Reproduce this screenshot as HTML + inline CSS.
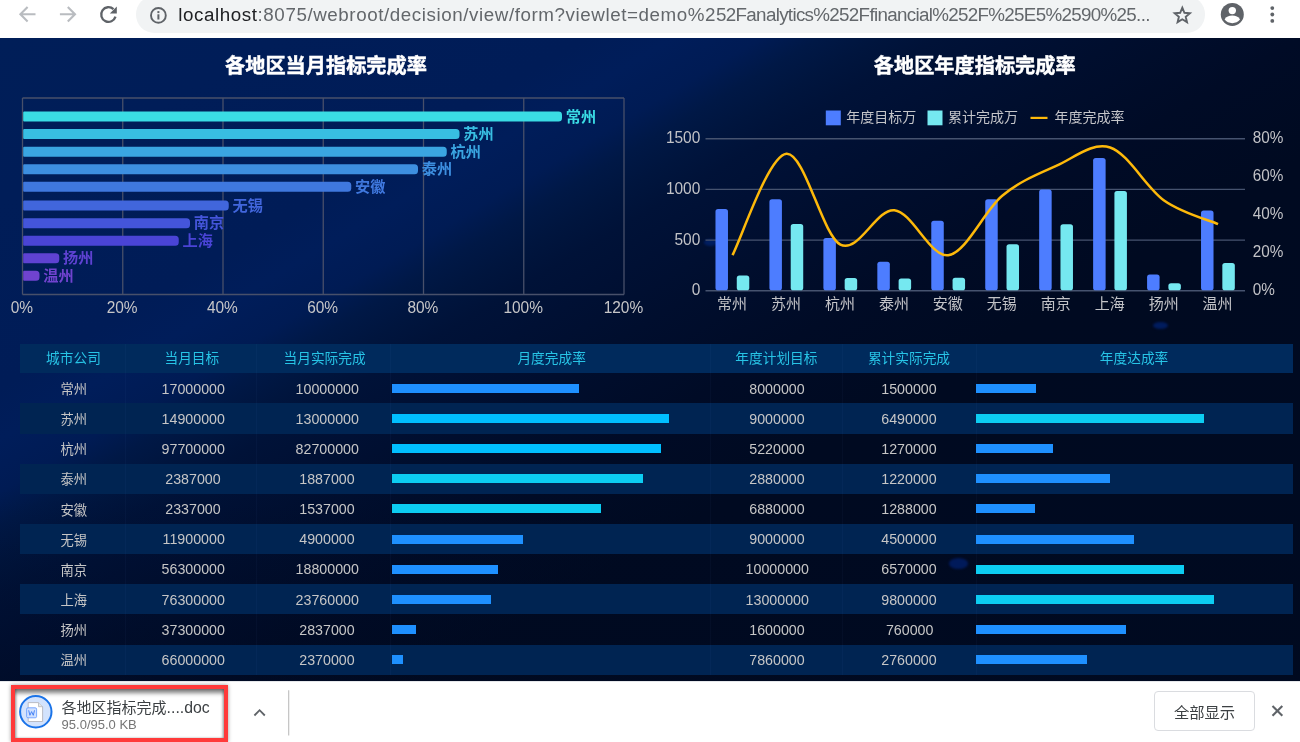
<!DOCTYPE html>
<html lang="zh-CN"><head><meta charset="utf-8"><title>各地区指标完成率</title>
<style>
*{box-sizing:border-box;margin:0;padding:0}
html,body{width:1300px;height:742px;overflow:hidden;background:#fff}
body{position:relative;font-family:"Liberation Sans","Noto Sans CJK SC",sans-serif}
#tb{position:absolute;left:0;top:0;width:1300px;height:38px;background:#fff}
#pill{position:absolute;left:135.5px;top:-4px;width:1069.5px;height:36.6px;border-radius:18.3px;background:#f1f3f4}
#url{position:absolute;left:178.3px;top:4.3px;height:22px;line-height:22px;font-size:18.8px;color:#63676b;white-space:nowrap;letter-spacing:0}
#url b{font-weight:400;color:#202124}
#dash{position:absolute;left:0;top:37.7px;width:1300px;height:643.3px;overflow:hidden;background:#000a20}
#bg{position:absolute;left:0;top:0;width:1300px;height:644px;
 background:linear-gradient(to bottom, rgba(0,9,32,0) 0%, rgba(0,9,32,0) 70%, rgba(0,9,32,0.35) 100%),
 linear-gradient(149.2deg, #001e58 0px, #001d58 140px, #001c57 300px, #001d5a 345px, #001b54 390px, #001846 420px, #00153e 450px, #001238 480px, #001034 520px, #000e2e 575px, #000b26 665px, #000a21 770px, #000a20 1218px),
 #000a20}
.bl{position:absolute;border-radius:50%;filter:blur(1.2px)}
#charts{position:absolute;left:0;top:-37.7px}
#charts text{font-family:"Liberation Sans","Noto Sans CJK SC",sans-serif}
.t{position:absolute;left:20px;top:306px;width:1272.6px}
.r{position:absolute;left:0;width:1272.6px;height:30.15px}
.r.h{height:29.6px}
.c{position:absolute;top:0;height:30.15px;line-height:30.15px;text-align:center;font-size:14.3px;color:#c6c6c6;white-space:nowrap;padding-left:4.6px;padding-top:0.3px}
.n{display:inline-block;transform:scaleX(.925);font-size:15.4px}
.z{font-size:13.3px;padding-left:2.4px;padding-top:1.7px}
.h .c{color:#27c4e6;font-size:13.7px;padding-left:2px;padding-top:0;top:0.7px;height:29.6px;line-height:29.6px}
.pb{position:absolute;height:9px}
#dl{position:absolute;left:0;top:680.75px;width:1300px;height:62px;background:#fff;box-shadow:inset 0 1px 0 #e6e8eb}
</style></head><body>
<div id="tb">
<div id="pill"></div>
<svg width="1300" height="38" viewBox="0 0 1300 38" style="position:absolute;left:0;top:0">
<g fill="none" stroke="#b9bcc0" stroke-width="2.1" stroke-linecap="butt" stroke-linejoin="miter">
<path d="M35.5 14.2H20.6M27.6 7.0L20.4 14.2L27.6 21.4"/>
<path d="M59.9 14.2H74.8M67.8 7.0L75 14.2L67.8 21.4"/>
</g>
<g fill="none" stroke="#5f6368" stroke-width="2.3">
<path d="M113.5 9.2A7.3 7.3 0 1 0 115.5 16.6"/>
</g>
<path d="M116.8 6.4V13.4H109.8Z" fill="#5f6368"/>
<circle cx="158.4" cy="15.4" r="7.4" fill="none" stroke="#5f6368" stroke-width="1.9"/>
<rect x="157.4" y="14.3" width="2" height="5.2" fill="#5f6368"/><rect x="157.4" y="11.1" width="2" height="2" fill="#5f6368"/>
<polygon points="1182.3,7.7 1184.42,12.79 1189.91,13.23 1185.72,16.81 1187,22.17 1182.3,19.3 1177.6,22.17 1178.88,16.81 1174.69,13.23 1180.18,12.79" fill="none" stroke="#5f6368" stroke-width="1.9" stroke-linejoin="miter"/>
<circle cx="1232.3" cy="14.4" r="11.5" fill="#5f6368"/>
<circle cx="1232.3" cy="10.6" r="3.7" fill="#fff"/>
<path d="M1224.6 19.6C1226 16.6 1229 15.6 1232.3 15.6C1235.6 15.6 1238.6 16.6 1240 19.6C1238.2 21.9 1235.4 23.2 1232.3 23.2C1229.2 23.2 1226.4 21.9 1224.6 19.6Z" fill="#fff"/>
<circle cx="1272.3" cy="8.1" r="1.9" fill="#5f6368"/>
<circle cx="1272.3" cy="14.5" r="1.9" fill="#5f6368"/>
<circle cx="1272.3" cy="20.9" r="1.9" fill="#5f6368"/>
</svg>
<div id="url"><span style="letter-spacing:.57px"><b>localhost</b>:8075/webroot/decision/view/form?viewlet=demo%2</span><span style="letter-spacing:-.68px">52Fanalytics%252Ffinancial%252F%25E5%2590%25...</span></div>
</div>
<div id="dash"><div id="bg"></div>
<div class="bl" style="left:703.5px;top:201.3px;width:13px;height:6.6px;background:#001e60"></div>
<div class="bl" style="left:1152.5px;top:284.6px;width:15px;height:7px;background:#001c5e"></div>
<svg id="charts" width="1300" height="340" viewBox="0 0 1300 340">
<g fill="none" stroke="#48506a" stroke-width="1.3">
<path d="M22.5 98V294.5"/>
<path d="M122.75 98V294.5"/>
<path d="M223 98V294.5"/>
<path d="M323.25 98V294.5"/>
<path d="M423.5 98V294.5"/>
<path d="M523.75 98V294.5"/>
<path d="M624 98V294.5"/>
<path d="M22.5 98H624"/>
<path d="M22.5 294.5H624"/>
</g>
<path d="M24.2 111.5H558.5a3.5 3.5 0 0 1 3.5 3.5v3a3.5 3.5 0 0 1 -3.5 3.5H24.2a1 1 0 0 1 -1 -1v-8a1 1 0 0 1 1 -1Z" fill="#3adce4"/>
<text x="565.7" y="121.5" font-size="15.2" font-weight="700" fill="#3adce4">常州</text>
<path d="M24.2 129.1H456a3.5 3.5 0 0 1 3.5 3.5v3a3.5 3.5 0 0 1 -3.5 3.5H24.2a1 1 0 0 1 -1 -1v-8a1 1 0 0 1 1 -1Z" fill="#38bee2"/>
<text x="463.2" y="139.1" font-size="15.2" font-weight="700" fill="#38bee2">苏州</text>
<path d="M24.2 146.75H443.25a3.5 3.5 0 0 1 3.5 3.5v3a3.5 3.5 0 0 1 -3.5 3.5H24.2a1 1 0 0 1 -1 -1v-8a1 1 0 0 1 1 -1Z" fill="#3aa5e1"/>
<text x="450.45" y="156.75" font-size="15.2" font-weight="700" fill="#3aa5e1">杭州</text>
<path d="M24.2 164.3H414.5a3.5 3.5 0 0 1 3.5 3.5v3a3.5 3.5 0 0 1 -3.5 3.5H24.2a1 1 0 0 1 -1 -1v-8a1 1 0 0 1 1 -1Z" fill="#3d8fe0"/>
<text x="421.7" y="174.3" font-size="15.2" font-weight="700" fill="#3d8fe0">泰州</text>
<path d="M24.2 181.85H347.75a3.5 3.5 0 0 1 3.5 3.5v3a3.5 3.5 0 0 1 -3.5 3.5H24.2a1 1 0 0 1 -1 -1v-8a1 1 0 0 1 1 -1Z" fill="#3f78de"/>
<text x="354.95" y="191.85" font-size="15.2" font-weight="700" fill="#3f78de">安徽</text>
<path d="M24.2 200.55H225.25a3.5 3.5 0 0 1 3.5 3.5v3a3.5 3.5 0 0 1 -3.5 3.5H24.2a1 1 0 0 1 -1 -1v-8a1 1 0 0 1 1 -1Z" fill="#4166dc"/>
<text x="232.45" y="210.55" font-size="15.2" font-weight="700" fill="#4166dc">无锡</text>
<path d="M24.2 218.15H186.5a3.5 3.5 0 0 1 3.5 3.5v3a3.5 3.5 0 0 1 -3.5 3.5H24.2a1 1 0 0 1 -1 -1v-8a1 1 0 0 1 1 -1Z" fill="#4455da"/>
<text x="193.7" y="228.15" font-size="15.2" font-weight="700" fill="#4455da">南京</text>
<path d="M24.2 235.7H175.25a3.5 3.5 0 0 1 3.5 3.5v3a3.5 3.5 0 0 1 -3.5 3.5H24.2a1 1 0 0 1 -1 -1v-8a1 1 0 0 1 1 -1Z" fill="#4a44d6"/>
<text x="182.45" y="245.7" font-size="15.2" font-weight="700" fill="#4a44d6">上海</text>
<path d="M24.2 253.25H55.75a3.5 3.5 0 0 1 3.5 3.5v3a3.5 3.5 0 0 1 -3.5 3.5H24.2a1 1 0 0 1 -1 -1v-8a1 1 0 0 1 1 -1Z" fill="#5e42d2"/>
<text x="62.95" y="263.25" font-size="15.2" font-weight="700" fill="#5e42d2">扬州</text>
<path d="M24.2 270.8H36a3.5 3.5 0 0 1 3.5 3.5v3a3.5 3.5 0 0 1 -3.5 3.5H24.2a1 1 0 0 1 -1 -1v-8a1 1 0 0 1 1 -1Z" fill="#7043cf"/>
<text x="43.2" y="280.8" font-size="15.2" font-weight="700" fill="#7043cf">温州</text>
<text transform="translate(21.9 312.5) scale(.95 1)" font-size="16.3" fill="#c6c6c8" text-anchor="middle">0%</text>
<text transform="translate(122.15 312.5) scale(.95 1)" font-size="16.3" fill="#c6c6c8" text-anchor="middle">20%</text>
<text transform="translate(222.4 312.5) scale(.95 1)" font-size="16.3" fill="#c6c6c8" text-anchor="middle">40%</text>
<text transform="translate(322.65 312.5) scale(.95 1)" font-size="16.3" fill="#c6c6c8" text-anchor="middle">60%</text>
<text transform="translate(422.9 312.5) scale(.95 1)" font-size="16.3" fill="#c6c6c8" text-anchor="middle">80%</text>
<text transform="translate(523.15 312.5) scale(.95 1)" font-size="16.3" fill="#c6c6c8" text-anchor="middle">100%</text>
<text transform="translate(623.4 312.5) scale(.95 1)" font-size="16.3" fill="#c6c6c8" text-anchor="middle">120%</text>
<text x="326" y="73" font-size="20.2" font-weight="700" fill="#fff" stroke="#fff" stroke-width="0.45" text-anchor="middle">各地区当月指标完成率</text>
<text x="974.7" y="73" font-size="20.2" font-weight="700" fill="#fff" stroke="#fff" stroke-width="0.45" text-anchor="middle">各地区年度指标完成率</text>
<g fill="none" stroke="#46536f" stroke-width="1.3">
<path d="M705.5 290.75H1245"/>
<path d="M705.5 240.08H1245"/>
<path d="M705.5 189.42H1245"/>
<path d="M705.5 138.75H1245"/>
</g>
<text transform="translate(700.3 295.45) scale(.95 1)" font-size="16.3" fill="#c2c3c7" text-anchor="end">0</text>
<text transform="translate(700.3 244.78) scale(.95 1)" font-size="16.3" fill="#c2c3c7" text-anchor="end">500</text>
<text transform="translate(700.3 194.12) scale(.95 1)" font-size="16.3" fill="#c2c3c7" text-anchor="end">1000</text>
<text transform="translate(700.3 143.45) scale(.95 1)" font-size="16.3" fill="#c2c3c7" text-anchor="end">1500</text>
<text transform="translate(1252.8 295.45) scale(.94 1)" font-size="16.3" fill="#c2c3c7">0%</text>
<text transform="translate(1252.8 257.45) scale(.94 1)" font-size="16.3" fill="#c2c3c7">20%</text>
<text transform="translate(1252.8 219.45) scale(.94 1)" font-size="16.3" fill="#c2c3c7">40%</text>
<text transform="translate(1252.8 181.45) scale(.94 1)" font-size="16.3" fill="#c2c3c7">60%</text>
<text transform="translate(1252.8 143.45) scale(.94 1)" font-size="16.3" fill="#c2c3c7">80%</text>
<rect x="715.48" y="209.08" width="12.5" height="81.17" rx="2.6" fill="#4d7dff"/>
<rect x="736.77" y="275.55" width="12.5" height="14.7" rx="2.6" fill="#75e8f0"/>
<text x="732.08" y="308.9" font-size="15" fill="#c2c3c7" text-anchor="middle">常州</text>
<rect x="769.42" y="199.25" width="12.5" height="91" rx="2.6" fill="#4d7dff"/>
<rect x="790.72" y="224.07" width="12.5" height="66.18" rx="2.6" fill="#75e8f0"/>
<text x="786.02" y="308.9" font-size="15" fill="#c2c3c7" text-anchor="middle">苏州</text>
<rect x="823.38" y="238.06" width="12.5" height="52.19" rx="2.6" fill="#4d7dff"/>
<rect x="844.67" y="277.88" width="12.5" height="12.37" rx="2.6" fill="#75e8f0"/>
<text x="839.98" y="308.9" font-size="15" fill="#c2c3c7" text-anchor="middle">杭州</text>
<rect x="877.33" y="261.77" width="12.5" height="28.48" rx="2.6" fill="#4d7dff"/>
<rect x="898.62" y="278.39" width="12.5" height="11.86" rx="2.6" fill="#75e8f0"/>
<text x="893.93" y="308.9" font-size="15" fill="#c2c3c7" text-anchor="middle">泰州</text>
<rect x="931.27" y="220.63" width="12.5" height="69.62" rx="2.6" fill="#4d7dff"/>
<rect x="952.57" y="277.7" width="12.5" height="12.55" rx="2.6" fill="#75e8f0"/>
<text x="947.88" y="308.9" font-size="15" fill="#c2c3c7" text-anchor="middle">安徽</text>
<rect x="985.23" y="199.25" width="12.5" height="91" rx="2.6" fill="#4d7dff"/>
<rect x="1006.52" y="244.24" width="12.5" height="46.01" rx="2.6" fill="#75e8f0"/>
<text x="1001.83" y="308.9" font-size="15" fill="#c2c3c7" text-anchor="middle">无锡</text>
<rect x="1039.17" y="189.42" width="12.5" height="100.83" rx="2.6" fill="#4d7dff"/>
<rect x="1060.47" y="224.17" width="12.5" height="66.08" rx="2.6" fill="#75e8f0"/>
<text x="1055.77" y="308.9" font-size="15" fill="#c2c3c7" text-anchor="middle">南京</text>
<rect x="1093.12" y="157.9" width="12.5" height="132.35" rx="2.6" fill="#4d7dff"/>
<rect x="1114.42" y="190.94" width="12.5" height="99.31" rx="2.6" fill="#75e8f0"/>
<text x="1109.72" y="308.9" font-size="15" fill="#c2c3c7" text-anchor="middle">上海</text>
<rect x="1147.08" y="274.54" width="12.5" height="15.71" rx="2.6" fill="#4d7dff"/>
<rect x="1168.38" y="283.25" width="12.5" height="7" rx="2.6" fill="#75e8f0"/>
<text x="1163.67" y="308.9" font-size="15" fill="#c2c3c7" text-anchor="middle">扬州</text>
<rect x="1201.03" y="210.39" width="12.5" height="79.86" rx="2.6" fill="#4d7dff"/>
<rect x="1222.33" y="262.98" width="12.5" height="27.27" rx="2.6" fill="#75e8f0"/>
<text x="1217.62" y="308.9" font-size="15" fill="#c2c3c7" text-anchor="middle">温州</text>
<path d="M732.48 255.12C741.47 238.23 768.44 155.52 786.42 153.76C804.41 152 822.39 235.17 840.38 244.58C858.36 253.98 876.34 208.42 894.33 210.19C912.31 211.96 930.29 257.63 948.27 255.22C966.26 252.81 984.24 210.63 1002.23 195.75C1020.21 180.87 1038.19 173.96 1056.17 165.92C1074.16 157.88 1092.14 141.73 1110.12 147.49C1128.11 153.25 1146.09 187.74 1164.08 200.5C1182.06 213.26 1209.03 220.13 1218.03 224.06" fill="none" stroke="#fdb90a" stroke-width="2.5" stroke-linejoin="round"/>
<rect x="825.8" y="110.5" width="15" height="14.8" fill="#4d7dff"/>
<text x="846.2" y="122.4" font-size="14" fill="#c4c5c9">年度目标万</text>
<rect x="927.5" y="110.5" width="15" height="14.8" fill="#75e8f0"/>
<text x="948" y="122.4" font-size="14" fill="#c4c5c9">累计完成万</text>
<path d="M1030.5 117.9H1047.5" stroke="#fdb90a" stroke-width="2.2" fill="none"/>
<text x="1054.5" y="122.4" font-size="14" fill="#c4c5c9">年度完成率</text>
</svg>
<div class="t">
<div class="r h" style="top:0;background:#002a5c">
<div class="c" style="left:0px;width:105px">城市公司</div>
<div class="c" style="left:105px;width:131.75px">当月目标</div>
<div class="c" style="left:236.75px;width:133.75px">当月实际完成</div>
<div class="c" style="left:370.5px;width:320.3px">月度完成率</div>
<div class="c" style="left:689.8px;width:131.2px">年度计划目标</div>
<div class="c" style="left:821px;width:134px">累计实际完成</div>
<div class="c" style="left:954.8px;width:316.6px">年度达成率</div>
</div>
<div class="r" style="top:29.6px;background:transparent">
<div class="c z" style="left:0px;width:105px">常州</div>
<div class="c" style="left:105px;width:131.75px"><span class="n">17000000</span></div>
<div class="c" style="left:237.95px;width:133.75px"><span class="n">10000000</span></div>
<div class="pb" style="left:372px;top:10.6px;width:186.75px;background:#1e90ff"></div>
<div class="c" style="left:689.1px;width:131.2px"><span class="n">8000000</span></div>
<div class="c" style="left:820.1px;width:134px"><span class="n">1500000</span></div>
<div class="pb" style="left:956.25px;top:10.6px;width:59.25px;background:#1e90ff"></div>
</div>
<div class="r" style="top:59.75px;background:#002452">
<div class="c z" style="left:0px;width:105px">苏州</div>
<div class="c" style="left:105px;width:131.75px"><span class="n">14900000</span></div>
<div class="c" style="left:237.95px;width:133.75px"><span class="n">13000000</span></div>
<div class="pb" style="left:372px;top:10.6px;width:277px;background:#00bfff"></div>
<div class="c" style="left:689.1px;width:131.2px"><span class="n">9000000</span></div>
<div class="c" style="left:820.1px;width:134px"><span class="n">6490000</span></div>
<div class="pb" style="left:956.25px;top:10.6px;width:227.9px;background:#0ccdf2"></div>
</div>
<div class="r" style="top:89.9px;background:transparent">
<div class="c z" style="left:0px;width:105px">杭州</div>
<div class="c" style="left:105px;width:131.75px"><span class="n">97700000</span></div>
<div class="c" style="left:237.95px;width:133.75px"><span class="n">82700000</span></div>
<div class="pb" style="left:372px;top:10.6px;width:268.7px;background:#00bfff"></div>
<div class="c" style="left:689.1px;width:131.2px"><span class="n">5220000</span></div>
<div class="c" style="left:820.1px;width:134px"><span class="n">1270000</span></div>
<div class="pb" style="left:956.25px;top:10.6px;width:76.9px;background:#1e90ff"></div>
</div>
<div class="r" style="top:120.05px;background:#002452">
<div class="c z" style="left:0px;width:105px">泰州</div>
<div class="c" style="left:105px;width:131.75px"><span class="n">2387000</span></div>
<div class="c" style="left:237.95px;width:133.75px"><span class="n">1887000</span></div>
<div class="pb" style="left:372px;top:10.6px;width:251px;background:#0ccdf2"></div>
<div class="c" style="left:689.1px;width:131.2px"><span class="n">2880000</span></div>
<div class="c" style="left:820.1px;width:134px"><span class="n">1220000</span></div>
<div class="pb" style="left:956.25px;top:10.6px;width:133.9px;background:#1e90ff"></div>
</div>
<div class="r" style="top:150.2px;background:transparent">
<div class="c z" style="left:0px;width:105px">安徽</div>
<div class="c" style="left:105px;width:131.75px"><span class="n">2337000</span></div>
<div class="c" style="left:237.95px;width:133.75px"><span class="n">1537000</span></div>
<div class="pb" style="left:372px;top:10.6px;width:208.8px;background:#0ccdf2"></div>
<div class="c" style="left:689.1px;width:131.2px"><span class="n">6880000</span></div>
<div class="c" style="left:820.1px;width:134px"><span class="n">1288000</span></div>
<div class="pb" style="left:956.25px;top:10.6px;width:59.2px;background:#1e90ff"></div>
</div>
<div class="r" style="top:180.35px;background:#002452">
<div class="c z" style="left:0px;width:105px">无锡</div>
<div class="c" style="left:105px;width:131.75px"><span class="n">11900000</span></div>
<div class="c" style="left:237.95px;width:133.75px"><span class="n">4900000</span></div>
<div class="pb" style="left:372px;top:10.6px;width:130.7px;background:#1e90ff"></div>
<div class="c" style="left:689.1px;width:131.2px"><span class="n">9000000</span></div>
<div class="c" style="left:820.1px;width:134px"><span class="n">4500000</span></div>
<div class="pb" style="left:956.25px;top:10.6px;width:158px;background:#1e90ff"></div>
</div>
<div class="r" style="top:210.5px;background:transparent">
<div class="c z" style="left:0px;width:105px">南京</div>
<div class="c" style="left:105px;width:131.75px"><span class="n">56300000</span></div>
<div class="c" style="left:237.95px;width:133.75px"><span class="n">18800000</span></div>
<div class="pb" style="left:372px;top:10.6px;width:106px;background:#1e90ff"></div>
<div class="c" style="left:689.1px;width:131.2px"><span class="n">10000000</span></div>
<div class="c" style="left:820.1px;width:134px"><span class="n">6570000</span></div>
<div class="pb" style="left:956.25px;top:10.6px;width:207.6px;background:#0ccdf2"></div>
</div>
<div class="r" style="top:240.65px;background:#002452">
<div class="c z" style="left:0px;width:105px">上海</div>
<div class="c" style="left:105px;width:131.75px"><span class="n">76300000</span></div>
<div class="c" style="left:237.95px;width:133.75px"><span class="n">23760000</span></div>
<div class="pb" style="left:372px;top:10.6px;width:98.9px;background:#1e90ff"></div>
<div class="c" style="left:689.1px;width:131.2px"><span class="n">13000000</span></div>
<div class="c" style="left:820.1px;width:134px"><span class="n">9800000</span></div>
<div class="pb" style="left:956.25px;top:10.6px;width:238.2px;background:#0ccdf2"></div>
</div>
<div class="r" style="top:270.8px;background:transparent">
<div class="c z" style="left:0px;width:105px">扬州</div>
<div class="c" style="left:105px;width:131.75px"><span class="n">37300000</span></div>
<div class="c" style="left:237.95px;width:133.75px"><span class="n">2837000</span></div>
<div class="pb" style="left:372px;top:10.6px;width:24.1px;background:#1e90ff"></div>
<div class="c" style="left:689.1px;width:131.2px"><span class="n">1600000</span></div>
<div class="c" style="left:820.1px;width:134px"><span class="n">760000</span></div>
<div class="pb" style="left:956.25px;top:10.6px;width:150.1px;background:#1e90ff"></div>
</div>
<div class="r" style="top:300.95px;background:#002452">
<div class="c z" style="left:0px;width:105px">温州</div>
<div class="c" style="left:105px;width:131.75px"><span class="n">66000000</span></div>
<div class="c" style="left:237.95px;width:133.75px"><span class="n">2370000</span></div>
<div class="pb" style="left:372px;top:10.6px;width:11.4px;background:#1e90ff"></div>
<div class="c" style="left:689.1px;width:131.2px"><span class="n">7860000</span></div>
<div class="c" style="left:820.1px;width:134px"><span class="n">2760000</span></div>
<div class="pb" style="left:956.25px;top:10.6px;width:111px;background:#1e90ff"></div>
</div>
</div>
<div style="position:absolute;left:124.5px;top:306px;width:1px;height:331.1px;background:rgba(120,170,255,0.035)"></div>
<div style="position:absolute;left:256.25px;top:306px;width:1px;height:331.1px;background:rgba(120,170,255,0.035)"></div>
<div style="position:absolute;left:390px;top:306px;width:1px;height:331.1px;background:rgba(120,170,255,0.035)"></div>
<div style="position:absolute;left:710.3px;top:306px;width:1px;height:331.1px;background:rgba(120,170,255,0.035)"></div>
<div style="position:absolute;left:841.5px;top:306px;width:1px;height:331.1px;background:rgba(120,170,255,0.035)"></div>
<div style="position:absolute;left:975.5px;top:306px;width:1px;height:331.1px;background:rgba(120,170,255,0.035)"></div>
<div class="bl" style="left:949px;top:520.5px;width:19px;height:10.5px;background:#001a5a"></div>
</div>
<div id="dl">
<div style="position:absolute;left:11px;top:4.25px;width:217px;height:57px;border:4px solid #ff3a3a;box-shadow:0 0 4px rgba(0,0,0,0.4), inset 0 5px 4px -1px rgba(0,0,0,0.5), inset 1.5px 0 2px rgba(0,0,0,0.22), inset -1.5px 0 2px rgba(0,0,0,0.22)"></div>
<svg width="1300" height="62" viewBox="0 0 1300 62" style="position:absolute;left:0;top:0">
<circle cx="35.8" cy="30.75" r="15.7" fill="#d3e3fd" stroke="#1a73e8" stroke-width="2"/>
<path d="M28.2 21.6h10.3l4.1 4.1v14.8h-14.4z" fill="#fff" stroke="#b4b6bd" stroke-width="0.9" stroke-linejoin="round"/>
<path d="M38.5 21.6v4.1h4.1" fill="#e4e6ea" stroke="#b4b6bd" stroke-width="0.8" stroke-linejoin="round"/>
<rect x="26.6" y="26.8" width="10" height="10" rx="1.4" fill="#cfe0ff" stroke="#6ea1ff" stroke-width="0.9"/>
<path d="M28.7 29.3l1.2 5l1.7-3.7l1.7 3.7l1.2-5" fill="none" stroke="#3b7cf5" stroke-width="0.9" stroke-linejoin="miter"/>
<path d="M254.4 34.5L259.6 29.2L264.8 34.5" fill="none" stroke="#5f6368" stroke-width="1.8"/>
<path d="M288.7 9.3V54.4" stroke="#bdbdbd" stroke-width="1.1"/>
<path d="M1272.5 24.9L1282.3 34.7M1282.3 24.9L1272.5 34.7" stroke="#5f6368" stroke-width="2.1" fill="none"/>
</svg>
<div style="position:absolute;left:61.6px;top:17.3px;font-size:15px;line-height:20px;color:#3c4043;white-space:nowrap">各地区指标完成<span style="font-size:15.8px">....doc</span></div>
<div style="position:absolute;left:61.6px;top:36px;font-size:13px;line-height:16px;color:#757575;white-space:nowrap">95.0/95.0 KB</div>
<div style="position:absolute;left:1154px;top:10.5px;width:101px;height:39.3px;border:1px solid #dadce0;border-radius:4px;font-size:15.3px;line-height:42.6px;text-align:center;color:#3c4043;overflow:hidden">全部显示</div>
</div>
</body></html>
